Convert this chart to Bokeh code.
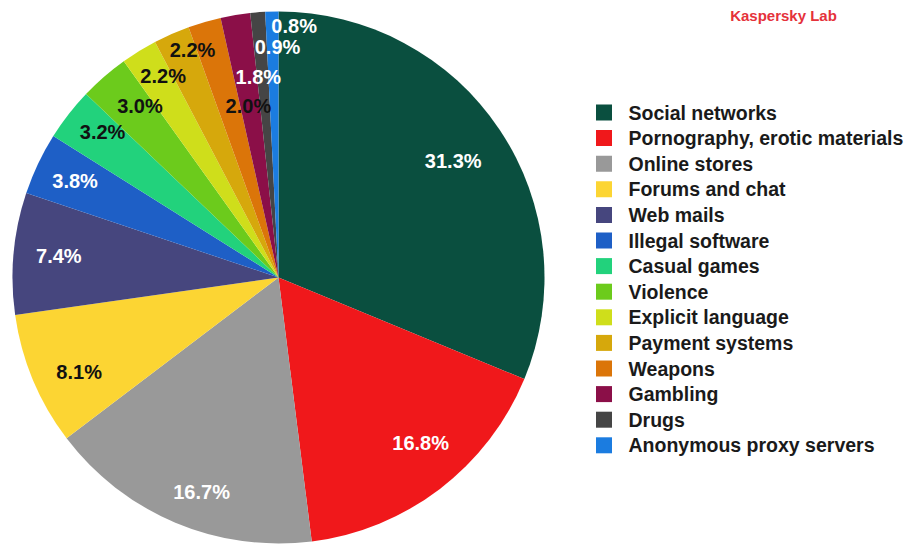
import numpy as np
from bokeh.plotting import figure
from bokeh.models import ColumnDataSource, Range1d
from bokeh.core.properties import value
from bokeh.embed import file_html
from bokeh.resources import INLINE

# ---- data ----
categories = ["Social networks", "Pornography, erotic materials", "Online stores",
              "Forums and chat", "Web mails", "Illegal software", "Casual games",
              "Violence", "Explicit language", "Payment systems", "Weapons",
              "Gambling", "Drugs", "Anonymous proxy servers"]
shares = [31.3, 16.8, 16.7, 8.1, 7.4, 3.8, 3.2, 3.0, 2.2, 2.2, 2.0, 1.8, 0.9, 0.8]
pct_labels = [f"{v:.1f}%" for v in shares]

# ---- style ----
colors = ["#0a4f3f", "#f0181b", "#999999", "#fcd533", "#46467e", "#1e5fc6",
          "#22d27c", "#6ccb1c", "#cfde1b", "#d6a80c", "#db7509", "#8b0f48",
          "#454545", "#1b7ce0"]
label_colors = ["#ffffff", "#ffffff", "#ffffff", "#111111", "#ffffff", "#ffffff",
                "#111111", "#111111", "#111111", "#111111", "#111111", "#ffffff",
                "#ffffff", "#ffffff"]
label_r = [0.79, 0.82, 0.857, 0.83, 0.83, 0.846, 0.857, 0.83, 0.872, 0.914,
           0.654, 0.759, 0.865, 0.947]
label_shift = [0, -3.3, -3.1, -2.8, 0.5, 0, 1.6, 2.1, 1.8, 3.0, 6.2, 3.6, 4.25, 5.0]

W, H = 906, 544
cx, cy, R = 278, 267, 266
FONT = "Liberation Sans"

frac = np.array(shares) / np.sum(shares)
cum = np.concatenate([[0.0], np.cumsum(frac)])
start = np.pi / 2 - 2 * np.pi * cum[1:]
end = np.pi / 2 - 2 * np.pi * cum[:-1]
mid_deg = 360 * (cum[:-1] + cum[1:]) / 2 + np.array(label_shift)
theta = np.radians(mid_deg)
lx = cx + np.array(label_r) * R * np.sin(theta)
ly = cy + np.array(label_r) * R * np.cos(theta)

src = ColumnDataSource(dict(cat=categories, start=start, end=end, color=colors,
                            lx=lx, ly=ly, lab=pct_labels, lcol=label_colors))

p = figure(width=W, height=H, output_backend="svg", toolbar_location=None,
           x_range=Range1d(0, W), y_range=Range1d(0, H), min_border=0,
           x_axis_location=None, y_axis_location=None, outline_line_color=None,
           background_fill_color="white", border_fill_color="white")
p.grid.visible = False

p.wedge(x=cx, y=cy, radius=R, start_angle="start", end_angle="end",
        direction="anticlock", fill_color="color", line_color=None, source=src)

p.text(x="lx", y="ly", text="lab", text_color="lcol", text_align="center",
       text_baseline="middle", text_font=value(FONT), text_font_style="bold",
       text_font_size="20px", source=src)

# legend
n = len(categories)
row_y = [H - (112 + 25.6 * i) for i in range(n)]
leg = ColumnDataSource(dict(y=row_y, color=colors, cat=categories))
p.rect(x=603.5, y="y", width=16, height=16, fill_color="color", line_color=None,
       source=leg)
p.text(x=628, y="y", text="cat", text_align="left", text_baseline="middle",
       text_color="#1a1a1a", text_font=value(FONT), text_font_style="bold",
       text_font_size="19.5px", source=leg)

p.text(x=[783], y=[H - 15], text=["Kaspersky Lab"], text_align="center",
       text_baseline="middle", text_color="#e5323b", text_font=value(FONT),
       text_font_style="bold", text_font_size="15px")

open("out.html", "w").write(file_html(p, INLINE))
